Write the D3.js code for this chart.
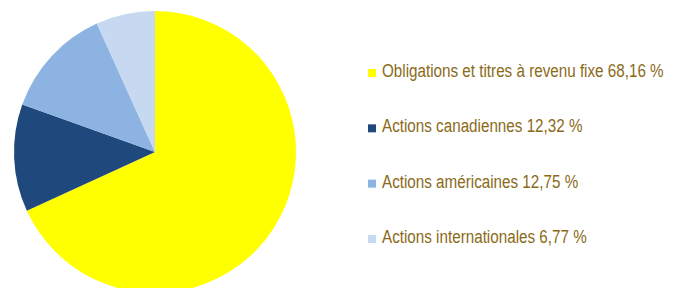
<!DOCTYPE html>
<html>
<head>
<meta charset="utf-8">
<script src="https://d3js.org/d3.v7.min.js"></script>
<style>
 body { margin: 0; background: #fff; }
 svg { display: block; }
</style>
</head>
<body>
<svg width="678" height="288"></svg>
<script>
 var categories = ["Obligations et titres à revenu fixe", "Actions canadiennes", "Actions américaines", "Actions internationales"];
 var values = [68.16, 12.32, 12.75, 6.77];
 var colors = ["#ffff00", "#1f497d", "#8db3e2", "#c6d9f0"];

 var svg = d3.select("svg");
 var fmt = function(v) { return v.toFixed(2).replace(".", ",") + " %"; };

 var pie = d3.pie().sort(null).value(function(d) { return d; });
 var arc = d3.arc().innerRadius(0).outerRadius(141);

 var g = svg.append("g").attr("transform", "translate(155,152)");
 g.selectAll("path")
    .data(pie(values))
    .enter()
    .append("path")
    .attr("d", arc)
    .attr("fill", function(d, i) { return colors[i]; });

 var y = d3.scalePoint().domain(d3.range(categories.length)).range([77, 243]);

 var leg = svg.append("g");
 leg.selectAll("rect")
    .data(categories)
    .enter()
    .append("rect")
    .attr("x", 368)
    .attr("y", function(d, i) { return y(i) - 8; })
    .attr("width", 8)
    .attr("height", 8)
    .attr("fill", function(d, i) { return colors[i]; });

 // arial narrow is not around, so squeeze a normal sans
 var txt = leg.append("g").attr("transform", "translate(382,0) scale(0.846,1)");
 txt.selectAll("text")
    .data(categories)
    .enter()
    .append("text")
    .attr("x", 0)
    .attr("y", function(d, i) { return y(i); })
    .text(function(d, i) { return d + " " + fmt(values[i]); })
    .attr("font-family", "'Liberation Sans', Arial, sans-serif")
    .attr("font-size", "18px")
    .attr("fill", "#8a6a18");
</script>
</body>
</html>
